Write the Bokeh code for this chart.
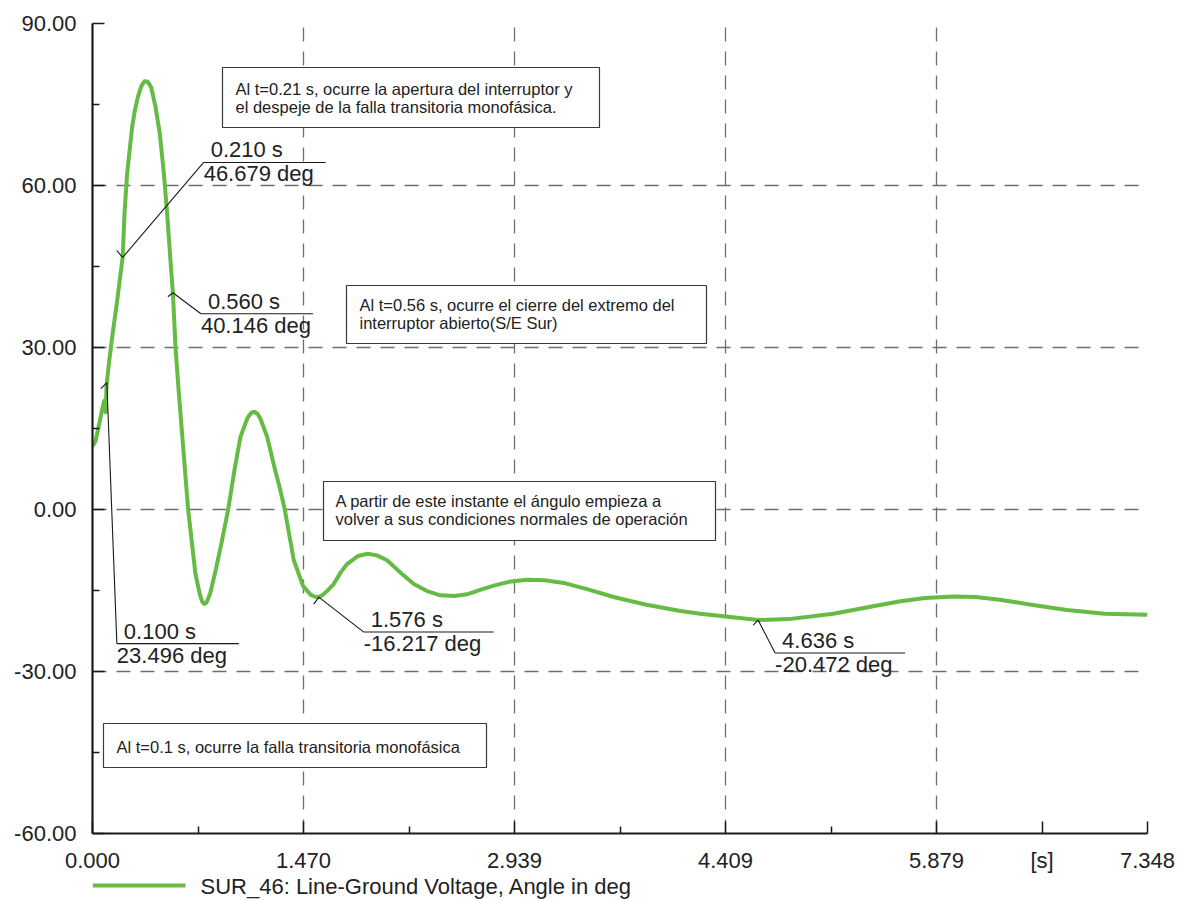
from bokeh.plotting import figure
from bokeh.layouts import column
from bokeh.models import Range1d, FixedTicker, Label
from bokeh.core.properties import value
from bokeh.embed import file_html
from bokeh.resources import INLINE

# ---------------- data ----------------
time_s = [0.0, 0.02, 0.044, 0.067, 0.08, 0.088, 0.092, 0.097, 0.1, 0.114, 0.14,
          0.172, 0.21, 0.223, 0.241, 0.276, 0.295, 0.316, 0.34, 0.362, 0.385, 0.409,
          0.439, 0.469, 0.497, 0.52, 0.543, 0.56, 0.578, 0.6, 0.624, 0.666, 0.717,
          0.75, 0.765, 0.78, 0.795, 0.82, 0.86, 0.9, 0.945, 0.99, 1.031, 1.08,
          1.105, 1.128, 1.15, 1.17, 1.216, 1.27, 1.309, 1.339, 1.402, 1.467, 1.52,
          1.55, 1.576, 1.6, 1.63, 1.68, 1.73, 1.773, 1.85, 1.917, 1.98, 2.052, 2.15,
          2.238, 2.33, 2.423, 2.52, 2.609, 2.7, 2.795, 2.9, 3.027, 3.15, 3.282,
          3.45, 3.63, 3.85, 4.095, 4.234, 4.41, 4.636, 4.85, 5.16, 5.4, 5.627, 5.8,
          6.0, 6.15, 6.32, 6.55, 6.787, 7.05, 7.348]
angle_deg = [11.7, 12.6, 15.5, 18.5, 20.0, 20.3, 18.0, 22.5, 23.5, 27.0, 32.5,
             38.7, 46.7, 54.8, 62.2, 70.8, 73.9, 76.4, 78.4, 79.3, 79.2, 78.2,
             74.5, 69.6, 62.2, 54.8, 46.1, 40.1, 30.1, 22.0, 14.0, 0.0, -11.9,
             -16.0, -17.1, -17.5, -17.2, -15.5, -11.0, -6.0, 0.0, 7.5, 13.5, 17.0,
             17.9, 18.1, 17.7, 16.8, 13.5, 7.5, 3.5, 0.0, -9.4, -14.2, -15.8,
             -16.15, -16.2, -15.9, -15.2, -13.8, -11.6, -10.1, -8.6, -8.2, -8.5, -9.4, -11.8,
             -13.8, -15.1, -15.9, -16.0, -15.7, -14.9, -14.1, -13.4, -13.0, -13.1, -13.6,
             -14.8, -16.2, -17.6, -18.8, -19.3, -19.8, -20.47, -20.3, -19.3, -18.1, -17.0, -16.4,
             -16.1, -16.2, -16.7, -17.7, -18.6, -19.3, -19.5]

x_ticks = [0.0, 1.4696, 2.9392, 4.4088, 5.8784, 7.348]
x_tick_labels = ["0.000", "1.470", "2.939", "4.409", "5.879", "7.348"]
x_minor = [0.7348, 2.2044, 3.674, 5.1436]
x_unit_pos, x_unit_label = 6.6132, "[s]"
y_ticks = [-60, -30, 0, 30, 60, 90]
y_tick_labels = ["-60.00", "-30.00", "0.00", "30.00", "60.00", "90.00"]
y_minor = [-45, -15, 15, 45, 75]

marker_t = [0.100, 0.210, 0.560, 1.576, 4.636]
marker_v = [23.496, 46.679, 40.146, -16.217, -20.472]
marker_time_labels = ["0.100 s", "0.210 s", "0.560 s", "1.576 s", "4.636 s"]
marker_value_labels = ["23.496 deg", "46.679 deg", "40.146 deg", "-16.217 deg", "-20.472 deg"]

note_lines = [
    ["Al t=0.21 s, ocurre la apertura del interruptor y",
     "el despeje de la falla transitoria monofásica."],
    ["Al t=0.56 s, ocurre el cierre del extremo del",
     "interruptor abierto(S/E Sur)"],
    ["A partir de este instante el ángulo empieza a",
     "volver a sus condiciones normales de operación"],
    ["Al t=0.1 s, ocurre la falla transitoria monofásica"],
]
series_label = "SUR_46: Line-Ground Voltage, Angle in deg"

# ---------------- layout (page pixels) ----------------
XMIN, XMAX, YMIN, YMAX = 0.0, 7.348, -60.0, 90.0
W, H, HL = 1177, 875, 25
FL, FT, FW, FH = 92, 23, 1055, 810
SX = FW / (XMAX - XMIN)
SY = FH / (YMAX - YMIN)


def X(px):
    return XMIN + (px - FL) / SX


def Y(py):
    return YMAX - (py - FT) / SY


def PX(x):
    return FL + (x - XMIN) * SX


def PY(y):
    return FT + (YMAX - y) * SY


FONT = value("Liberation Sans")
TXT = "#222222"
GREEN = "#66BB44"

p = figure(width=W, height=H, output_backend="svg", toolbar_location=None,
           x_range=Range1d(XMIN, XMAX), y_range=Range1d(YMIN, YMAX),
           min_border_left=FL, min_border_top=FT,
           min_border_right=W - FL - FW,
           min_border_bottom=H - FT - FH)
p.outline_line_color = None
p.background_fill_color = "white"

all_x_ticks = x_ticks + [x_unit_pos]
all_x_labels = x_tick_labels + [x_unit_label]
for ax, ticks, labels, minor in ((p.xaxis[0], all_x_ticks, all_x_labels, x_minor),
                                 (p.yaxis[0], y_ticks, y_tick_labels, y_minor)):
    ax.ticker = FixedTicker(ticks=ticks, minor_ticks=minor)
    ax.major_label_overrides = {t: l for t, l in zip(ticks, labels)}
    ax.axis_line_color = "#1a1a1a"
    ax.axis_line_width = 2.2
    ax.major_tick_in = 12
    ax.major_tick_out = 0
    ax.minor_tick_in = 7
    ax.minor_tick_out = 0
    ax.major_tick_line_color = "#1a1a1a"
    ax.minor_tick_line_color = "#1a1a1a"
    ax.major_tick_line_width = 1.5
    ax.minor_tick_line_width = 1.5
    ax.major_label_text_font = "Liberation Sans"
    ax.major_label_text_font_size = "22px"
    ax.major_label_text_color = TXT
p.xaxis.major_label_standoff = 14
p.yaxis.major_label_standoff = 16

p.xgrid.ticker = FixedTicker(ticks=x_ticks)
p.ygrid.ticker = FixedTicker(ticks=y_ticks)
for g in (p.xgrid[0], p.ygrid[0]):
    g.grid_line_color = "#6e6e6e"
    g.grid_line_width = 1.3
    g.grid_line_dash = "14 10"

# curve
p.line(time_s, angle_deg, line_color=GREEN, line_width=4, line_join="round")

# note boxes (page pixel layout: left, top, right, bottom) and text line centres
box_px = [(222, 67, 599, 127), (346, 285, 706, 343), (323, 481, 715, 540), (103, 723, 486, 767)]
text_px = [(235, [88, 106]), (359, [304.5, 322.5]), (335, [500, 518.5]), (116, [746])]
p.quad(left=[X(b[0]) for b in box_px], right=[X(b[2]) for b in box_px],
       top=[Y(b[1]) for b in box_px], bottom=[Y(b[3]) for b in box_px],
       fill_color="white", line_color="#3a3a3a", line_width=1.2)
nx, ny, nt = [], [], []
for lines, (tx, centres) in zip(note_lines, text_px):
    for line, c in zip(lines, centres):
        nx.append(X(tx))
        ny.append(Y(c))
        nt.append(line)
p.text(x=nx, y=ny, text=nt, text_font=FONT, text_font_size="16.5px",
       text_color=TXT, text_align="left", text_baseline="middle")

# value markers (leader offsets in pixels)
leader = [(10, 261, 122), (81, -95, 122), (28, 21, 112), (45, 35, 130), (17, 33, 130)]
tick = [(-6, 6), (-6, -7), (-5, 4), (-5, 7), (-5, 5)]
sx0, sy0, sx1, sy1 = [], [], [], []
tx_, ty_, tt_ = [], [], []
vx_, vy_, vt_ = [], [], []
for t, v, (ldx, ldy, L), (kx, ky), tl, vl in zip(marker_t, marker_v, leader, tick,
                                                 marker_time_labels, marker_value_labels):
    px, py = PX(t), PY(v)
    ex, ey = px + ldx, py + ldy
    for a, b, c, d in ((px, py, px + kx, py + ky), (px, py, ex, ey), (ex, ey, ex + L, ey)):
        sx0.append(X(a)); sy0.append(Y(b)); sx1.append(X(c)); sy1.append(Y(d))
    tx_.append(X(ex + 7)); ty_.append(Y(ey - 12.5)); tt_.append(tl)
    vx_.append(X(ex)); vy_.append(Y(ey + 11.5)); vt_.append(vl)
p.segment(x0=sx0, y0=sy0, x1=sx1, y1=sy1, line_color="#1a1a1a", line_width=1.1)
p.text(x=tx_, y=ty_, text=tt_, text_font=FONT, text_font_size="22px",
       text_color=TXT, text_align="left", text_baseline="middle")
p.text(x=vx_, y=vy_, text=vt_, text_font=FONT, text_font_size="22px",
       text_color=TXT, text_align="left", text_baseline="middle")

# legend strip below the chart (its frame is aligned with the main frame)
leg = figure(width=W, height=HL, output_backend="svg", toolbar_location=None,
             x_range=Range1d(XMIN, XMAX), y_range=Range1d(HL, 0),
             x_axis_type=None, y_axis_type=None,
             min_border_left=FL, min_border_right=W - FL - FW,
             min_border_top=0, min_border_bottom=0)
leg.outline_line_color = None
leg.grid.visible = False
leg.line(x=[X(92), X(185)], y=[10, 10], line_color=GREEN, line_width=4)
leg.add_layout(Label(x=X(200), y=10.5, text=series_label, text_font="Liberation Sans",
                     text_font_size="22px", text_color=TXT, text_align="left",
                     text_baseline="middle"))

layout = column(p, leg, spacing=0)
open("out.html", "w").write(file_html(layout, INLINE))
